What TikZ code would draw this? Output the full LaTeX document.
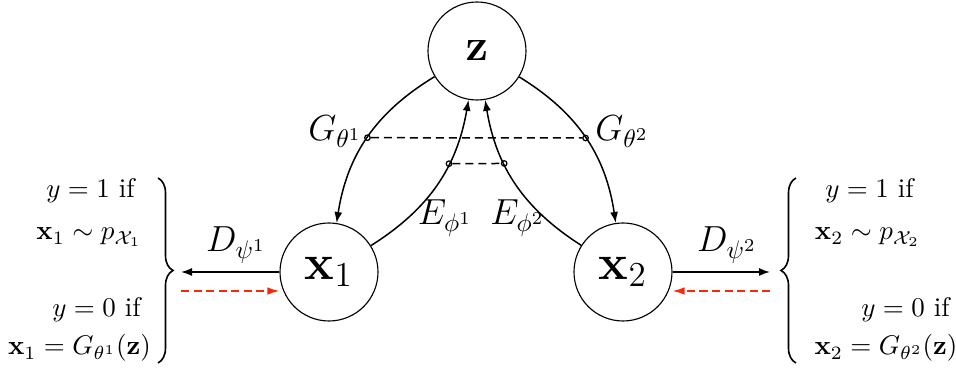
\RequirePackage{fix-cm}
\documentclass[tikz,border=0pt]{standalone}
\usepackage{amsmath,amssymb}
\usetikzlibrary{arrows.meta,decorations.pathreplacing}
\definecolor{fakered}{RGB}{250,40,10}
\begin{document}
\begin{tikzpicture}[x=0.4pt,y=-0.4pt,
  var/.style={circle,draw,line width=0.45pt,minimum size=39.2pt,inner sep=0pt},
  conn/.style={line width=0.6pt,-{Latex[length=4.4pt,width=3.2pt]}},
  joint/.style={circle,draw,line width=0.5pt,minimum size=2.2pt,inner sep=0pt},
  link/.style={line width=0.6pt,dash pattern=on 3.2pt off 2pt},
  fake/.style={fakered,line width=0.6pt,dash pattern=on 3.2pt off 1.8pt,-{Latex[length=4.8pt,width=3pt]}},
  lbl/.style={inner sep=0pt,anchor=base,font=\fontsize{14.5}{17}\selectfont},
  side/.style={inner sep=0pt,anchor=base,font=\fontsize{10.8}{13}\selectfont},
  bracket/.style={decorate,decoration={brace,amplitude=6pt},line width=0.65pt}
]
\useasboundingbox (0,0) rectangle (956,371);
% variables
\node[var,font=\fontsize{18}{22}\selectfont] (z) at (477,51) {$\mathbf{z}$};
\node[var,font=\fontsize{20}{24}\selectfont] (x1) at (329,272) {$\mathbf{x}_1$};
\node[var,font=\fontsize{20}{24}\selectfont] (x2) at (623,272) {$\mathbf{x}_2$};
% generators and encoders
\draw[conn] (z) to[bend right=25] node[joint,pos=0.5] (g1) {} (x1);
\draw[conn] (z) to[bend left=25] node[joint,pos=0.5] (g2) {} (x2);
\draw[conn] (x1) to[bend right=24] node[joint,pos=0.64] (e1) {} (z);
\draw[conn] (x2) to[bend left=24] node[joint,pos=0.64] (e2) {} (z);
\draw[link] (g1) -- (g2);
\draw[link] (e1) -- (e2);
% labels
\node[lbl] (lg1) at (335,141) {$G_{\theta^1}$};
\node[lbl] (lg2) at (622,141) {$G_{\theta^2}$};
\node[lbl] (le1) at (445,225) {$E_{\phi^1}$};
\node[lbl] (le2) at (517.5,225) {$E_{\phi^2}$};
\node[lbl] (ld1) at (236,252) {$D_{\psi^1}$};
\node[lbl] (ld2) at (727,252) {$D_{\psi^2}$};
% discriminator arrows
\coordinate (d1) at (181,272);
\coordinate (d2) at (770,272);
\coordinate (r1) at (181,291);
\coordinate (r2) at (770,291);
\draw[conn] (x1.west) -- (d1);
\draw[conn] (x2.east) -- (d2);
\draw[fake] (r1) -- (r1 -| x1.west);
\draw[fake] (r2) -- (r2 -| x2.east);
% braces
\draw[bracket] (158,178) -- (158,363);
\draw[bracket] (796,363) -- (796,178);
% side texts
\node[side] (a1) at (90.5,198) {$y=1$ if};
\node[side] (a2) at (89,240) {$\mathbf{x}_1\sim p_{\mathcal{X}_1}$};
\node[side] (a3) at (96.5,317) {$y=0$ if};
\node[side] (a4) at (79.5,355) {$\mathbf{x}_1=G_{\theta^1}(\mathbf{z})$};
\node[side] (b1) at (869.5,198) {$y=1$ if};
\node[side] (b2) at (867.5,240) {$\mathbf{x}_2\sim p_{\mathcal{X}_2}$};
\node[side] (b3) at (905.5,317) {$y=0$ if};
\node[side] (b4) at (886,355) {$\mathbf{x}_2=G_{\theta^2}(\mathbf{z})$};
\end{tikzpicture}
\end{document}
